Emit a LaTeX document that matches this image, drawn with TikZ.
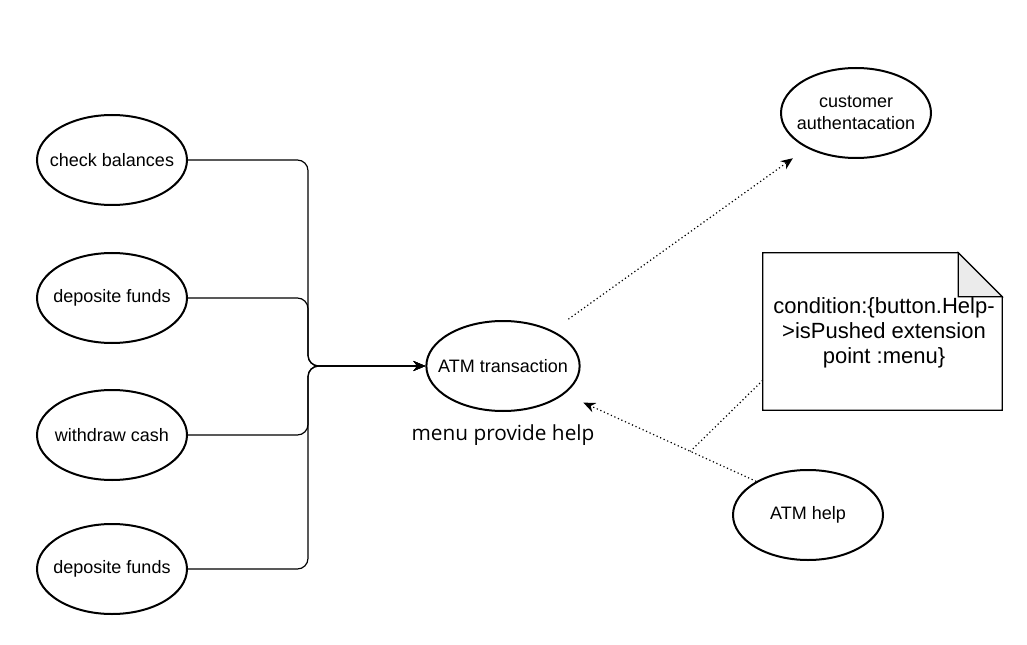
\documentclass[tikz,border=0pt]{standalone}
\usepackage{fontspec}
\setmainfont{Liberation Sans}
\newfontfamily\menufont{Open Sans}
\usetikzlibrary{positioning}
\usetikzlibrary{calc}
\usetikzlibrary{arrows.meta}
\usetikzlibrary{shapes.geometric}
\definecolor{foldcolor}{RGB}{235, 235, 235}
\tikzstyle{usecase} = [
	ellipse,
	line width=1.5pt,
	draw=black,
	minimum width=112.5pt,
	minimum height=67.5pt,
	inner xsep=-8pt,
	inner ysep=0pt,
	align=center,
	font=\fontsize{13.5}{16.5}\selectfont,
]
\tikzstyle{conn} = [
	line width=0.9pt,
	rounded corners=8pt,
	-{Stealth[length=9pt, width=7.5pt]},
]
\tikzstyle{dep} = [
	dotted,
	line width=0.9pt,
]
\tikzstyle{notebox} = [
	minimum width=179.25pt,
	minimum height=117.75pt,
	align=center,
	font=\fontsize{16.5}{18.75}\selectfont,
]

\begin{document}
\begin{tikzpicture}[x=0.75pt, y=-0.75pt]
	\useasboundingbox (0,0) rectangle (1027,645);

	%
	% Use cases on the left
	\node[usecase] (check) at (112,160) {check balances};
	\node[usecase] (deposit1) at (112,298) {deposite funds};
	\node[usecase] (withdraw) at (112,435) {withdraw cash};
	\node[usecase] (deposit2) at (112,569) {deposite funds};

	%
	% Use cases on the right
	\node[usecase] (trans) at (503,366) {ATM transaction};
	\node[font=\menufont\fontsize{15.6}{18}\selectfont] (menu) at (503,435) {menu provide help};
	\node[usecase] (cust) at (856,113) {customer\\authentacation};
	\node[usecase] (help) at (808,515) {ATM help};

	%
	% Note
	\node[notebox] (note) at (882.5,331.5) {};
	\node[font=\fontsize{16.5}{18.75}\selectfont, align=center] (notetext) at (884,333) {condition:\{button.Help-\\>isPushed extension\\point :menu\}};
	\draw[line width=0.9pt] (note.south west) -- (note.north west) -- ([xshift=-33pt]note.north east) -- ([yshift=-33pt]note.north east) -- (note.south east) -- cycle;
	\draw[line width=0.9pt, fill=foldcolor] ([xshift=-33pt]note.north east) -- ([xshift=-33pt, yshift=-33pt]note.north east) -- ([yshift=-33pt]note.north east) -- cycle;

	%
	% Connectors
	\coordinate (bus) at (308,366);
	\draw[conn] (check.east) -| (bus) -- (trans.west);
	\draw[conn] (deposit1.east) -| (bus) -- (trans.west);
	\draw[conn] (withdraw.east) -| (bus) -- (trans.west);
	\draw[conn] (deposit2.east) -| (bus) -- (trans.west);

	% dotted ones
	\draw[dep, -{Stealth[length=9pt, width=7.5pt]}, shorten <=14.7pt, shorten >=13pt] (trans) -- (cust);
	\draw[dep, -{Stealth[length=9pt, width=7.5pt]}, shorten >=15.5pt] (help.147) -- (trans);

	\coordinate (link) at ($(help.147)!0.26!(trans)$);
	\coordinate (notelink) at ($(note.south west)!0.19!(note.north west)$);
	\draw[dep] (notelink) -- (link);

\end{tikzpicture}
\end{document}
